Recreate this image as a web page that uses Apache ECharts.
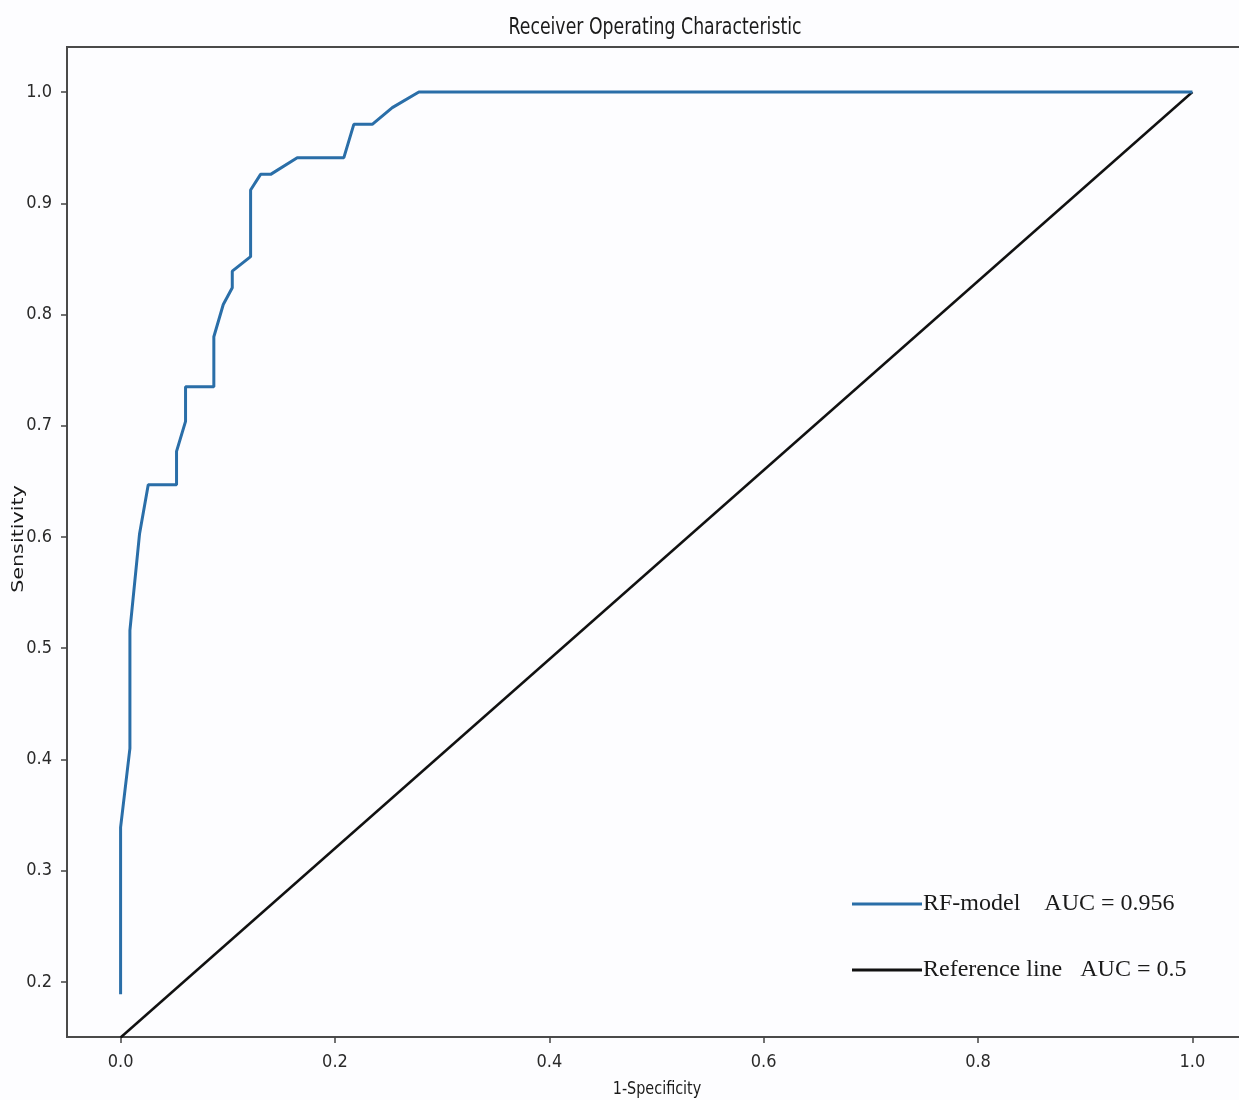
<!DOCTYPE html>
<html>
<head>
<meta charset="utf-8">
<script src="https://cdn.jsdelivr.net/npm/echarts@6/dist/echarts.min.js"></script>
<style>
html,body{margin:0;padding:0;background:#fdfdff;}
#chart{width:1239px;height:1100px;}
</style>
</head>
<body>
<div id="chart"></div>
<script>
// ROC curve of RF-model (1-Specificity, Sensitivity)
const fpr = [0, 0, 0.0087, 0.0087, 0.0177, 0.0258, 0.0522, 0.0522, 0.0606, 0.0606, 0.087, 0.087, 0.0958, 0.1042, 0.1042, 0.1213, 0.1213, 0.1306, 0.140, 0.1648, 0.2083, 0.2176, 0.2348, 0.2535, 0.2783, 1.0];
const tpr = [0.189, 0.339, 0.410, 0.516, 0.603, 0.647, 0.647, 0.677, 0.704, 0.735, 0.735, 0.780, 0.809, 0.824, 0.839, 0.852, 0.912, 0.926, 0.926, 0.941, 0.941, 0.971, 0.971, 0.986, 1.0, 1.0];
// Reference line
const refX = [0, 1];
const refY = [0.15, 1];
const xTicks = [0, 0.2, 0.4, 0.6, 0.8, 1.0];
const yTicks = [0.2, 0.3, 0.4, 0.5, 0.6, 0.7, 0.8, 0.9, 1.0];
const seriesNames = ['RF-model    AUC = 0.956', 'Reference line   AUC = 0.5'];
const titleText = 'Receiver Operating Characteristic';
const xName = '1-Specificity';
const yName = 'Sensitivity';

const condensed = '"DejaVu Sans Condensed", "DejaVu Sans", sans-serif';
const sans = '"DejaVu Sans", sans-serif';
const chart = echarts.init(document.getElementById('chart'), null, {renderer: 'canvas'});
chart.setOption({
  animation: false,
  backgroundColor: '#fdfdff',
  graphic: [
    {type: 'text', x: 655, y: 28, scaleX: 0.77, silent: true,
     style: {text: titleText, fontFamily: sans, fontSize: 22.5, fill: '#1a1a1a', align: 'center', verticalAlign: 'middle'}},
    {type: 'text', x: 657, y: 1089, scaleX: 0.8, silent: true,
     style: {text: xName, fontFamily: sans, fontSize: 18, fill: '#1a1a1a', align: 'center', verticalAlign: 'middle'}},
    {type: 'text', x: 19, y: 539, rotation: Math.PI / 2, scaleY: 0.74, silent: true,
     style: {text: yName, fontFamily: sans, fontSize: 20.7, fill: '#1a1a1a', align: 'center', verticalAlign: 'middle'}}
  ],
  grid: {left: 67, top: 47, right: -7, bottom: 63, outerBoundsMode: 'none', containLabel: false,
         show: true, borderColor: '#4a4a4a', borderWidth: 2, backgroundColor: 'transparent'},
  legend: {
    orient: 'vertical', left: 847, top: 887, itemWidth: 70, itemHeight: 3, itemGap: 42, icon: 'rect',
    textStyle: {fontFamily: '"Liberation Serif", "Times New Roman", serif', fontSize: 24, color: '#1a1a1a', padding: [0, 0, 0, -4]},
    data: seriesNames
  },
  xAxis: {
    type: 'value', min: -0.05, max: 1.05,
    axisLine: {show: true, onZero: false, lineStyle: {color: '#4a4a4a', width: 2}},
    axisTick: {show: true, length: 6, customValues: xTicks, lineStyle: {color: '#444', width: 1.5}},
    axisLabel: {customValues: xTicks, margin: 16, fontFamily: condensed, fontSize: 18, color: '#2a2a2a', formatter: v => v.toFixed(1)},
    splitLine: {show: false}
  },
  yAxis: {
    type: 'value', min: 0.1505, max: 1.0405,
    axisLine: {show: true, onZero: false, lineStyle: {color: '#4a4a4a', width: 2}},
    axisTick: {show: true, length: 6, customValues: yTicks, lineStyle: {color: '#444', width: 1.5}},
    axisLabel: {customValues: yTicks, margin: 15, fontFamily: condensed, fontSize: 18, color: '#2a2a2a', formatter: v => v.toFixed(1)},
    splitLine: {show: false}
  },
  series: [
    {
      name: seriesNames[0], type: 'line', showSymbol: false, z: 3,
      data: fpr.map((x, i) => [x, tpr[i]]),
      lineStyle: {color: '#2a6ea8', width: 3}, itemStyle: {color: '#2a6ea8'}
    },
    {
      name: seriesNames[1], type: 'line', showSymbol: false, z: 2,
      data: refX.map((x, i) => [x, refY[i]]),
      lineStyle: {color: '#111', width: 2.5}, itemStyle: {color: '#111'}
    }
  ]
});
</script>
</body>
</html>
